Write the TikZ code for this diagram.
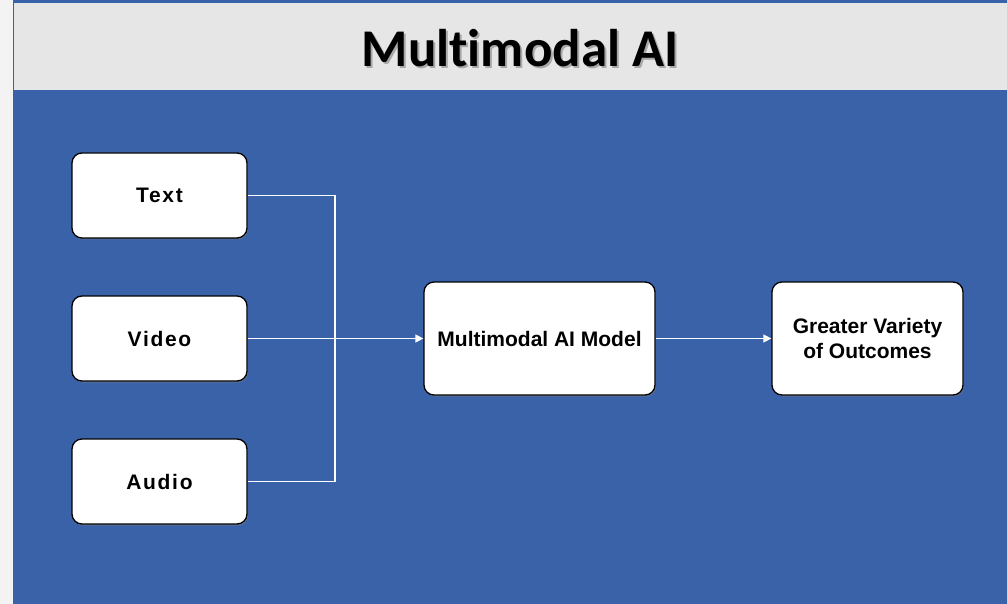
\documentclass[tikz,border=0pt]{standalone}
\usepackage{fontspec}
\setmainfont{Liberation Sans}
\newfontfamily\titlefont[Ligatures=NoCommon]{Carlito}
\usetikzlibrary{positioning,arrows.meta,shadows}
\definecolor{bandblue} {HTML}{3A62A8}
\definecolor{bandgrey} {HTML}{E6E6E6}
\definecolor{edgegrey} {HTML}{F3F3F3}
\definecolor{shadegrey}{HTML}{7F7F7F}
\tikzset{
  modbox/.style ={draw=black, line width=1.3pt, fill=white,
                  rounded corners=10pt, align=center, inner sep=4pt,
                  minimum width=175pt, minimum height=85pt,
                  font=\fontsize{21}{25}\selectfont\bfseries,
                  drop shadow={shadow xshift=1pt, shadow yshift=-1.5pt,
                               opacity=0.5}},
  bigbox/.style ={modbox, minimum height=113pt,
                  font=\fontsize{21}{25}\selectfont\bfseries},
  ln/.style     ={draw=white, line width=1.4pt},
  ar/.style     ={ln, -{Triangle[length=8pt,width=8pt]}},
  ttl/.style    ={font=\titlefont\fontsize{53}{60}\selectfont\bfseries,
                  inner sep=0pt}
}
\begin{document}
\begin{tikzpicture}[x=1pt,y=-1pt]
\useasboundingbox (0,0) rectangle (1007,604);
% background and title band
\fill[edgegrey] (0,0) rectangle (1007,604);
\fill[bandblue] (13,0) rectangle (1007,604);
\fill[bandgrey] (14,3) rectangle (1007,90);
\node[ttl, text=shadegrey, opacity=0.6] at (522,50) {Multimodal AI};
\node[ttl] (title) at (520,48) {Multimodal AI};

% inputs
\node[modbox] (txt) at (159.5,195.5) {\addfontfeatures{LetterSpace=8}Text};
\node[modbox] (vid) at (159.5,338.5) {\addfontfeatures{LetterSpace=8}Video};
\node[modbox] (aud) at (159.5,481.5) {\addfontfeatures{LetterSpace=8}Audio};

% model and result
\node[bigbox, minimum width=231pt] (model) at (539.5,338.5) {Multimodal AI Model};
\node[bigbox, minimum width=191pt] (outc) at (867.5,338.5)
  {Greater Variety\\of Outcomes};

\coordinate (join) at (335,338.5);
\draw[ln] (txt.east) -| (join) |- (aud.east);
\draw[ar] (vid) -- (model);
\draw[ar] (model) -- (outc);
\end{tikzpicture}
\end{document}
